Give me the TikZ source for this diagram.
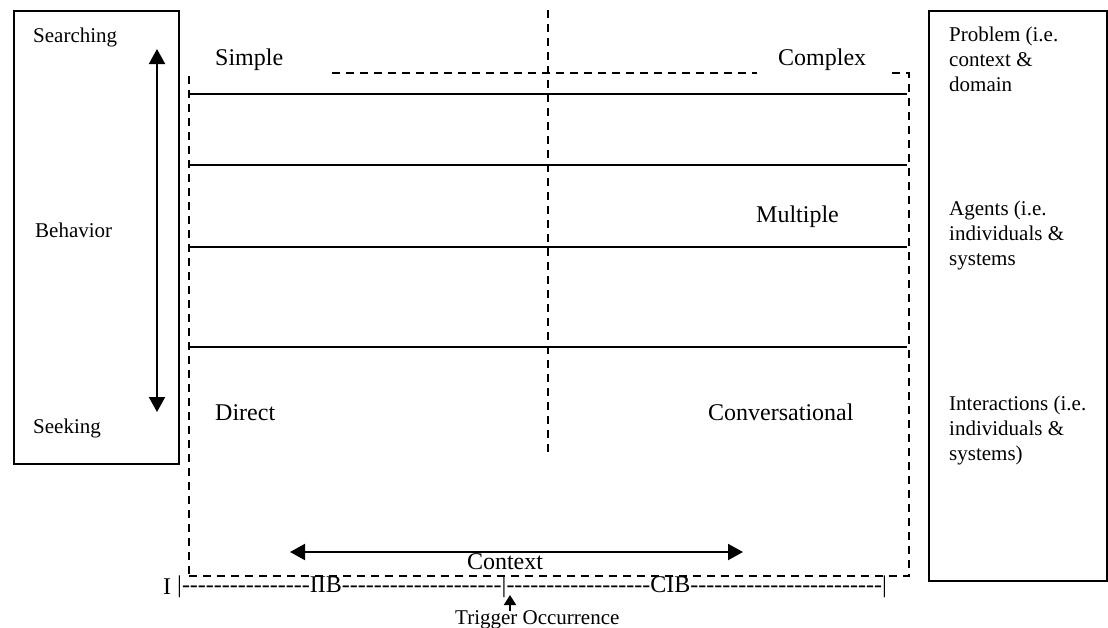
\documentclass[tikz,border=0pt]{standalone}
\usepackage{fontspec}
\setmainfont{Liberation Serif}
\usetikzlibrary{arrows.meta}
\ExplSyntaxOn
\cs_new:Npn \myhyphens #1 { \prg_replicate:nn {#1} { -\kern0pt } }
\ExplSyntaxOff
\begin{document}
\begin{tikzpicture}[x=1pt,y=-1pt,
  big/.style={font=\fontsize{24}{25}\selectfont, inner sep=0pt},
  small/.style={font=\fontsize{21}{25}\selectfont, inner sep=0pt, align=left},
  frame/.style={draw, line width=1.6pt, inner sep=0pt, anchor=north west},
  dashframe/.style={draw, line width=1.8pt, dash pattern=on 8pt off 6pt},
  rowline/.style={draw, line width=1.3pt},
  dbl/.style={line width=2pt, {Triangle[length=15pt,width=16pt]}-{Triangle[length=15pt,width=16pt]}},
  uparrow/.style={line width=2pt, -{Triangle[length=10pt,width=12pt]}}]
\useasboundingbox (0,0) rectangle (1108,627);

% left box
\node[frame, minimum width=165pt, minimum height=453pt] (lbox) at (13,10) {};
\node[small, anchor=base west] (searching) at (33,42) {Searching};
\node[small, anchor=base west] (behavior) at (35,237) {Behavior};
\node[small, anchor=base west] (seeking) at (33,433) {Seeking};
\coordinate (st) at (157,49);
\coordinate (sb) at (157,412);
\draw[dbl] (st) -- (sb);

% right box
\node[frame, minimum width=178pt, minimum height=570pt] (rbox) at (928,10) {};
\node[small, anchor=north west] (problem) at (949,27) {Problem (i.e.\\context \&\\domain};
\node[small, anchor=north west] (agents) at (949,201) {Agents (i.e.\\individuals \&\\systems};
\node[small, anchor=north west] (inter) at (949,396) {Interactions (i.e.\\individuals \&\\systems)};

% dashed context frame
\node[dashframe, anchor=north west, minimum width=720pt, minimum height=503pt, inner sep=0pt] (ctx) at (188,72) {};
\coordinate (vt) at (548,10);
\coordinate (vb) at (548,455);
\draw[dashframe] (vt) -- (vb);

% rows
\draw[rowline] (189,94) -- (907,94);
\draw[rowline] (189,165) -- (907,165);
\draw[rowline] (189,247) -- (907,247);
\draw[rowline] (189,347) -- (907,347);

% labels on top edge
\fill[white] (191,46) rectangle (328,80);
\fill[white] (757,46) rectangle (886,80);
\node[big, anchor=base west] (simple) at (215,65) {Simple};
\node[big, anchor=base west] (complex) at (778,65) {Complex};
\node[big, anchor=base west] (multiple) at (756,222) {Multiple};
\node[big, anchor=base west] (direct) at (215,420) {Direct};
\node[big, anchor=base west] (conv) at (708,420) {Conversational};

% context arrow
\coordinate (cl) at (290,552);
\coordinate (cr) at (743,552);
\draw[dbl] (cl) -- (cr);
\node[big, anchor=base] (context) at (505,569) {Context};
\node[big, anchor=base west] (ichar) at (163,594) {I};

% scale
\node[big, anchor=base west] (scale) at (177,592) {|\myhyphens{16}IIB\myhyphens{20}|\myhyphens{18}CIB\myhyphens{24}|};
\coordinate (tb) at (510,611);
\coordinate (tt) at (510,595);
\draw[uparrow] (tb) -- (tt);
\node[small, anchor=base west] (trigger) at (455,624) {Trigger Occurrence};
\end{tikzpicture}
\end{document}
